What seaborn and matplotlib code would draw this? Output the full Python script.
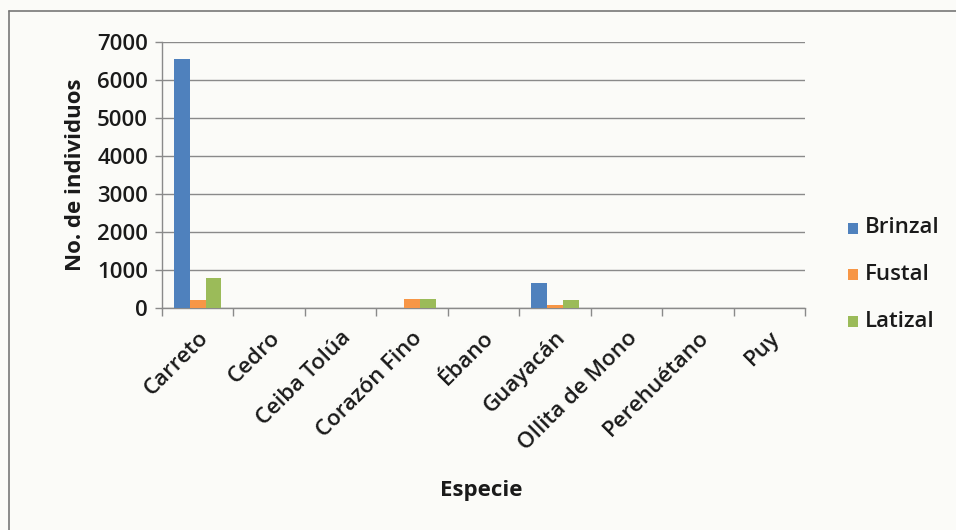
import matplotlib
matplotlib.use("Agg")
import matplotlib.pyplot as plt
from matplotlib.lines import Line2D
import seaborn as sns
import pandas as pd

# Number of individuals per species and growth stage
especies = ["Carreto", "Cedro", "Ceiba Tolúa", "Corazón Fino", "Ébano",
            "Guayacán", "Ollita de Mono", "Perehuétano", "Puy"]
brinzal = [6560, 0, 0, 0, 0, 660, 0, 0, 0]
fustal = [220, 0, 0, 230, 0, 65, 0, 0, 0]
latizal = [780, 0, 0, 225, 0, 205, 0, 0, 0]
estados = ["Brinzal", "Fustal", "Latizal"]
colores = ["#4F81BD", "#F79646", "#9BBB59"]

df = pd.DataFrame({"Especie": especies, "Brinzal": brinzal,
                   "Fustal": fustal, "Latizal": latizal})
long_df = df.melt(id_vars="Especie", value_vars=estados,
                  var_name="Estado", value_name="N")

sns.set_theme(style="white")
plt.rcParams["font.family"] = ["Open Sans", "DejaVu Sans"]

FS = 16
TXT = "#1a1a1a"
GRID = "#8a8a8a"
WT = "semibold"

fig = plt.figure(figsize=(9.56, 5.30), dpi=100)
fig.patch.set_facecolor("#fbfbf8")
ax = fig.add_axes([0.1695, 0.419, 0.6725, 0.502])
ax.set_facecolor("#fbfbf8")

sns.barplot(data=long_df, x="Especie", y="N", hue="Estado",
            hue_order=estados, palette=colores, width=0.66,
            saturation=1, linewidth=0, ax=ax, legend=False, zorder=3)

ax.set_ylim(0, 7000)
ax.set_xlim(-0.5, len(especies) - 0.5)
ax.set_yticks(range(0, 7001, 1000))
ax.set_yticklabels([str(v) for v in range(0, 7001, 1000)],
                   fontsize=FS, color=TXT, fontweight=WT)
ax.yaxis.grid(True, color=GRID, linewidth=1.0, zorder=0)
ax.tick_params(axis="y", length=5, width=1, color=GRID, pad=5, left=True)

# category labels at the centres, tick marks at the boundaries
ax.set_xticks(range(len(especies)))
ax.set_xticklabels(especies, rotation=45, ha="right", va="top",
                   rotation_mode="anchor", fontsize=FS, color=TXT,
                   fontweight=WT)
ax.tick_params(axis="x", which="major", length=0, pad=14)
ax.set_xticks([i - 0.5 for i in range(len(especies) + 1)], minor=True)
ax.tick_params(axis="x", which="minor", length=6, width=1,
               color=GRID, bottom=True)

for side in ["top", "right"]:
    ax.spines[side].set_visible(False)
for side in ["left", "bottom"]:
    ax.spines[side].set_color(GRID)
    ax.spines[side].set_linewidth(1)

ax.set_xlabel("")
ax.set_ylabel("No. de individuos", fontsize=FS, fontweight="bold",
              color=TXT, labelpad=8)
fig.text(0.503, 0.075, "Especie", ha="center", va="center",
         fontsize=FS, fontweight="bold", color=TXT)

# legend entries
for i, (nombre, col) in enumerate(zip(estados, colores)):
    y = 0.570 - i * 0.088
    fig.patches.append(plt.Rectangle((0.887, y - 0.011), 0.0105, 0.021,
                                     transform=fig.transFigure,
                                     facecolor=col, edgecolor="none"))
    fig.text(0.905, y, nombre, ha="left", va="center", fontsize=FS,
             color=TXT, fontweight=WT)

# outer chart frame
fig.add_artist(Line2D([0.009, 1.0], [0.979, 0.979], color="#777777",
                      linewidth=1.2, transform=fig.transFigure))
fig.add_artist(Line2D([0.009, 0.009], [0.0, 0.979], color="#777777",
                      linewidth=1.2, transform=fig.transFigure))

fig.savefig("out.png", dpi=100, facecolor=fig.get_facecolor())
